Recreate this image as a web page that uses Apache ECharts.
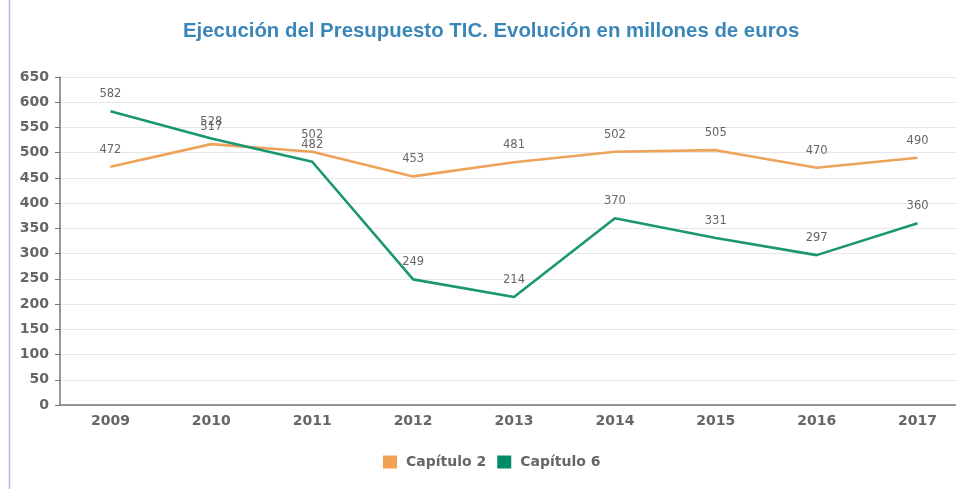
<!DOCTYPE html>
<html>
<head>
<meta charset="utf-8">
<script src="https://cdn.jsdelivr.net/npm/echarts@6/dist/echarts.min.js"></script>
<style>
html,body{margin:0;padding:0;background:#fff;}
#c{width:956px;height:489px;}
</style>
</head>
<body>
<div id="c"></div>
<script>
var titleText = 'Ejecución del Presupuesto TIC. Evolución en millones de euros';
var years = ['2009','2010','2011','2012','2013','2014','2015','2016','2017'];
var cap2 = [472, 517, 502, 453, 481, 502, 505, 470, 490];
var cap6 = [582, 528, 482, 249, 214, 370, 331, 297, 360];
var seriesNames = ['Capítulo 2', 'Capítulo 6'];

var chart = echarts.init(document.getElementById('c'));
var labelStyle = {show: true, position: 'top', distance: 11, color: '#666', fontSize: 11.5, fontFamily: 'DejaVu Sans', opacity: 1};
chart.setOption({
  animation: false,
  graphic: [{type: 'line', shape: {x1: 9.5, y1: 0, x2: 9.5, y2: 489}, style: {stroke: '#A9BCD9', lineWidth: 1.5}}],
  title: {
    text: titleText, left: 183, top: 21, padding: 0,
    textStyle: {color: '#3A86B8', fontSize: 20.4, fontWeight: 'bold', fontFamily: 'Liberation Sans'}
  },
  legend: {
    bottom: 15, left: 378, itemWidth: 14, itemHeight: 13, itemGap: 11,
    icon: 'rect',
    textStyle: {color: '#666', fontSize: 14, fontWeight: 'bold', fontFamily: 'DejaVu Sans', padding: [0, 0, 0, 4]},
    data: [{name: seriesNames[0], itemStyle: {color: '#F2A154', opacity: 1}}, {name: seriesNames[1], itemStyle: {color: '#008B6A', opacity: 1}}]
  },
  grid: {left: 60, top: 77, width: 908, height: 328, outerBoundsMode: 'none', containLabel: false},
  xAxis: {
    type: 'category', data: years, boundaryGap: true,
    axisLine: {lineStyle: {color: '#777', width: 1.5}},
    axisTick: {alignWithLabel: true, length: 5, lineStyle: {color: '#777'}},
    axisLabel: {color: '#666', fontSize: 14, fontWeight: 'bold', fontFamily: 'DejaVu Sans', margin: 9}
  },
  yAxis: {
    type: 'value', min: 0, max: 650, interval: 50,
    axisLine: {show: true, lineStyle: {color: '#777', width: 1.5}},
    axisTick: {show: true, length: 5, lineStyle: {color: '#777'}},
    axisLabel: {color: '#666', fontSize: 14, fontWeight: 'bold', fontFamily: 'DejaVu Sans', margin: 11},
    splitLine: {lineStyle: {color: '#E6E6E6'}}
  },
  series: [
    {name: seriesNames[0], type: 'line', data: cap2, symbol: 'circle', symbolSize: 0.01, showSymbol: true, itemStyle: {color: '#F2A154'}, lineStyle: {color: '#EDA35A', width: 2.6}, label: labelStyle},
    {name: seriesNames[1], type: 'line', data: cap6, symbol: 'circle', symbolSize: 0.01, showSymbol: true, itemStyle: {color: '#008B6A'}, lineStyle: {color: '#1A9673', width: 2.6}, label: labelStyle}
  ]
});
</script>
</body>
</html>
